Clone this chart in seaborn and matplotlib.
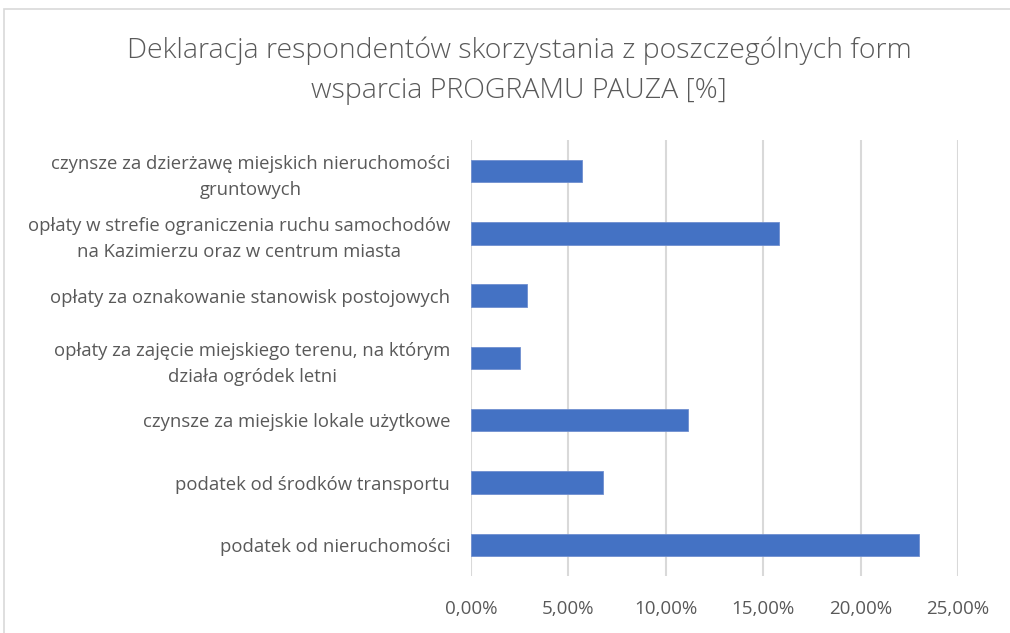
import numpy as np
import pandas as pd
import matplotlib
matplotlib.use('Agg')
import matplotlib.pyplot as plt
import seaborn as sns
from matplotlib.ticker import FuncFormatter
from matplotlib.patches import Rectangle

categories = [
    "czynsze za dzierżawę miejskich nieruchomości\ngruntowych",
    "opłaty w strefie ograniczenia ruchu samochodów\nna Kazimierzu oraz w centrum miasta",
    "opłaty za oznakowanie stanowisk postojowych",
    "opłaty za zajęcie miejskiego terenu, na którym\ndziała ogródek letni",
    "czynsze za miejskie lokale użytkowe",
    "podatek od środków transportu",
    "podatek od nieruchomości",
]
values = [5.72, 15.79, 2.86, 2.50, 11.12, 6.80, 22.99]
x_ticks = [0, 5, 10, 15, 20, 25]
title = "Deklaracja respondentów skorzystania z poszczególnych form\nwsparcia PROGRAMU PAUZA [%]"

df = pd.DataFrame({'kategoria': categories, 'procent': values})

sns.set_style('white')
plt.rcParams['font.family'] = ['Open Sans', 'DejaVu Sans']

fig = plt.figure(figsize=(10.1, 6.33), dpi=100)
ax = fig.add_axes([0.4663, 0.090, 0.4822, 0.689])

sns.barplot(data=df, y='kategoria', x='procent', orient='h', color='#4472C4',
            width=0.36, edgecolor='#6f8fd0', linewidth=0.6, saturation=1, ax=ax,
            zorder=3)

ax.set_xlim(0, 25)
ax.set_ylim(6.5, -0.5)
ax.set_xticks(x_ticks)
ax.xaxis.set_major_formatter(FuncFormatter(lambda v, p: f"{v:.2f}".replace('.', ',') + '%'))
ax.grid(axis='x', color='#d9d9d9', linewidth=1.5, zorder=0)
ax.grid(axis='y', visible=False)
for s in ax.spines.values():
    s.set_visible(False)
ax.tick_params(axis='both', length=0)
ax.tick_params(axis='x', labelsize=13.5, colors='#595959', pad=17)
ax.tick_params(axis='y', labelsize=13.3, colors='#595959', pad=15)
for lbl in ax.get_yticklabels():
    lbl.set_multialignment('center')
    lbl.set_linespacing(1.55)
ax.set_xlabel('')
ax.set_ylabel('')

fig.text(0.514, 0.888, title, ha='center', va='center', fontsize=20.5,
         color='#595959', fontweight='light', linespacing=1.55)

fig.patches.append(Rectangle((4 / 1010, -0.05), 1.1, 1 - 9 / 633 + 0.05,
                             transform=fig.transFigure, fill=False,
                             edgecolor='#d9d9d9', linewidth=1.2))

plt.savefig('out.png', dpi=100, facecolor='white')
plt.close()
